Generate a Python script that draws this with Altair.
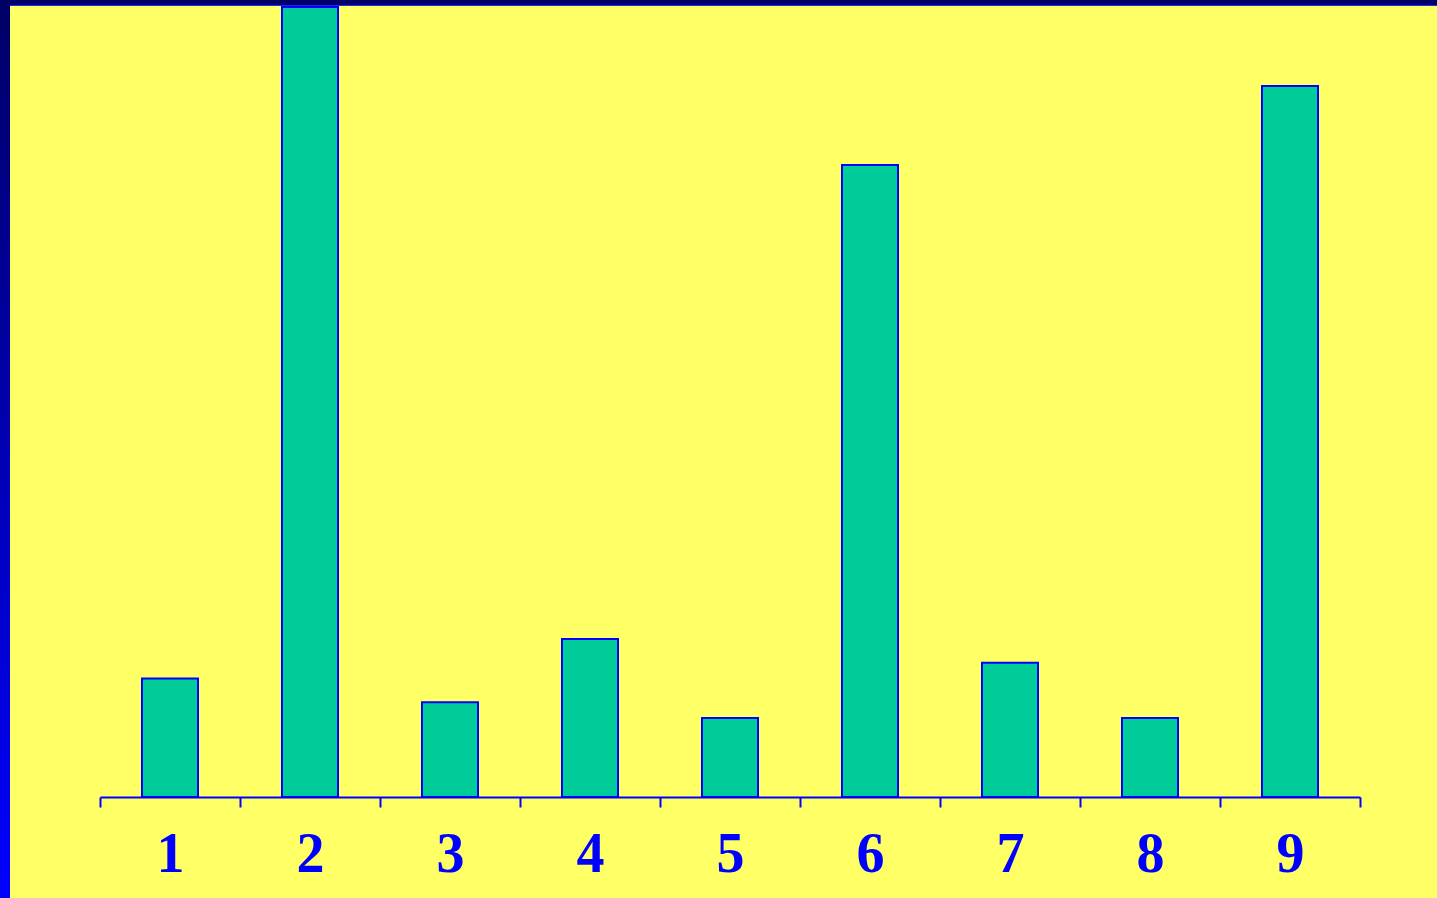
import altair as alt
import pandas as pd

categories = ["1", "2", "3", "4", "5", "6", "7", "8", "9"]
values = [15, 100, 12, 20, 10, 80, 17, 10, 90]

df = pd.DataFrame({"cat": categories, "val": values})

bars = alt.Chart(df).mark_bar(
    fill="#00CC99", stroke="#0000FF", strokeWidth=2,
    width=alt.RelativeBandSize(0.4)
).encode(
    x=alt.X("cat:N", sort=categories,
            scale=alt.Scale(paddingInner=0, paddingOuter=0),
            axis=alt.Axis(title=None, labelAngle=0, domainColor="#0000FF", domainWidth=2,
                          tickColor="#0000FF", tickWidth=2, tickSize=10, tickBand="extent",
                          labelFont="Liberation Serif", labelFontWeight="bold", labelFontSize=56,
                          labelColor="#0000FF", labelPadding=20)),
    y=alt.Y("val:Q", scale=alt.Scale(domain=[0, 100], nice=False), axis=None),
)

left_border = alt.Chart(df).mark_rect(
    fill=alt.Gradient(gradient="linear", x1=0, x2=0, y1=0, y2=1,
                      stops=[alt.GradientStop(color="#000066", offset=0),
                             alt.GradientStop(color="#0000FF", offset=1)])
).encode(x=alt.value(-100), x2=alt.value(-90), y=alt.value(-7), y2=alt.value(891))

top_border = alt.Chart(df).mark_rect(fill="#000066").encode(
    x=alt.value(-100), x2=alt.value(1337), y=alt.value(-7), y2=alt.value(-2))

top_line = alt.Chart(df).mark_rect(fill="#2222FF").encode(
    x=alt.value(-90), x2=alt.value(1337), y=alt.value(-2), y2=alt.value(-1))

chart = alt.layer(bars, left_border, top_border, top_line).properties(
    width=1260, height=790,
    background="#FFFF66",
    padding={"left": 100, "top": 7, "right": 77, "bottom": 101},
    autosize=alt.AutoSizeParams(type="none"),
).configure_view(stroke=None)

chart.save("out.html", embed_options={"renderer": "svg", "actions": False})
